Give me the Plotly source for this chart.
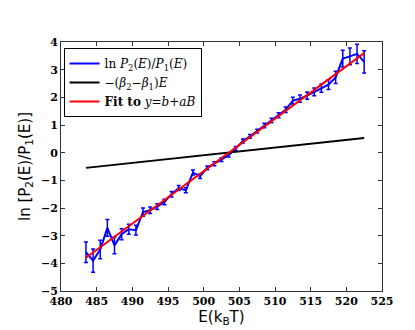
import plotly.graph_objects as go

# energy bins (k_B T)
energy = [483.5, 484.5, 485.5, 486.5, 487.5, 488.5, 489.5, 490.5, 491.5, 492.5,
          493.5, 494.5, 495.5, 496.5, 497.5, 498.5, 499.5, 500.5, 501.5, 502.5,
          503.5, 504.5, 505.5, 506.5, 507.5, 508.5, 509.5, 510.5, 511.5, 512.5,
          513.5, 514.5, 515.5, 516.5, 517.5, 518.5, 519.5, 520.5, 521.5, 522.5]

ln_ratio = [-3.60, -3.90, -3.50, -2.72, -3.35, -2.95, -2.77, -2.80, -2.15, -2.08,
            -1.95, -1.78, -1.50, -1.28, -1.36, -0.72, -0.85, -0.55, -0.40, -0.25,
            -0.09, 0.15, 0.42, 0.59, 0.78, 0.98, 1.16, 1.35, 1.55, 1.88,
            1.95, 2.06, 2.20, 2.33, 2.46, 2.72, 3.40, 3.48, 3.57, 3.28]

ln_ratio_err = [0.37, 0.42, 0.33, 0.30, 0.30, 0.20, 0.18, 0.18, 0.15, 0.12,
                0.10, 0.10, 0.10, 0.09, 0.09, 0.09, 0.08, 0.07, 0.07, 0.07,
                0.07, 0.07, 0.07, 0.07, 0.07, 0.08, 0.08, 0.09, 0.10, 0.12,
                0.13, 0.13, 0.14, 0.15, 0.18, 0.22, 0.30, 0.30, 0.35, 0.40]

line_energy = [483.5, 522.5]
beta_line = [-0.55, 0.53]
fit_line = [-3.80, 3.60]

SERIF = "DejaVu Serif"

fig = go.Figure()
fig.add_trace(go.Scatter(
    x=energy, y=ln_ratio, mode="lines",
    name="ln <i>P</i><sub>2</sub>(<i>E</i>)/<i>P</i><sub>1</sub>(<i>E</i>)",
    line=dict(color="#0000ff", width=2),
    error_y=dict(type="data", array=ln_ratio_err, color="#0000ff", thickness=1.5, width=2),
))
fig.add_trace(go.Scatter(
    x=line_energy, y=beta_line, mode="lines",
    name="−(<i>β</i><sub>2</sub>−<i>β</i><sub>1</sub>)<i>E</i>",
    line=dict(color="black", width=2),
))
fig.add_trace(go.Scatter(
    x=line_energy, y=fit_line, mode="lines",
    name="<b>Fit to</b> <i>y</i>=<i>b</i>+<i>aB</i>",
    line=dict(color="#ff0000", width=2),
))

axis_common = dict(
    showline=True, linecolor="#333333", linewidth=1, mirror="ticks",
    ticks="inside", ticklen=4, tickcolor="#333333",
    showgrid=False, zeroline=False,
    tickfont=dict(family=SERIF, size=11, color="black", weight="bold"),
)

fig.update_xaxes(range=[480, 525], dtick=5, tick0=480,
                 title=dict(text="E(k<sub>B</sub>T)", font=dict(family="DejaVu Sans", size=15, color="black"), standoff=3),
                 **axis_common)
fig.update_yaxes(range=[-5, 4], dtick=1, tick0=0,
                 title=dict(text="ln [P<sub>2</sub>(E)/P<sub>1</sub>(E)]", font=dict(family="DejaVu Sans", size=15, color="black"), standoff=6),
                 **axis_common)

fig.update_layout(
    width=415, height=330,
    margin=dict(l=53, r=41, t=34, b=47),
    paper_bgcolor="white", plot_bgcolor="white",
    showlegend=True,
    legend=dict(x=0.008, y=0.976, xanchor="left", yanchor="top",
                bgcolor="white", bordercolor="black", borderwidth=1,
                font=dict(family=SERIF, size=12, color="black"),
                itemwidth=30, tracegroupgap=0),
)

fig.write_html("out.html")
